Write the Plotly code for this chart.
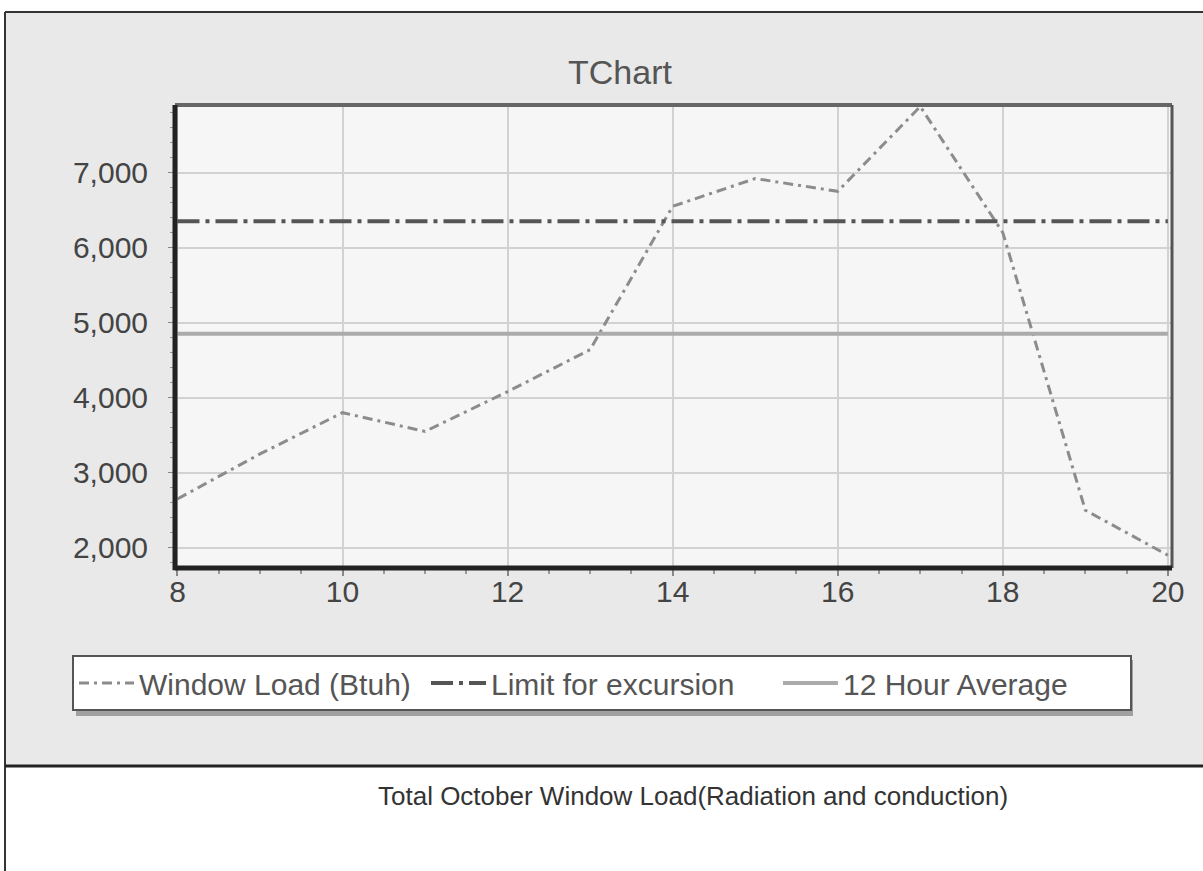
import plotly.graph_objects as go

# ---- data ----
hours = [8, 9, 10, 11, 12, 13, 14, 15, 16, 17, 18, 19, 20]
window_load = [2650, 3250, 3800, 3550, 4080, 4640, 6550, 6920, 6750, 7880, 6200, 2500, 1900]
limit_value = 6350
average_value = 4850
y_ticks = [2000, 3000, 4000, 5000, 6000, 7000]
x_ticks = [8, 10, 12, 14, 16, 18, 20]

W, H = 1203, 871
L, R, T, B = 175, 1172, 105, 568  # plot area in pixels


def px(x):
    return (x - L) / (R - L)


def py(y):
    return (B - y) / (B - T)


fig = go.Figure()
fig.add_trace(go.Scatter(
    x=hours, y=window_load, mode="lines", name="Window Load (Btuh)",
    line=dict(color="#8c8c8c", width=3, dash="10px,5px,3px,5px"),
))
fig.add_trace(go.Scatter(
    x=[hours[0], hours[-1]], y=[limit_value, limit_value], mode="lines",
    name="Limit for excursion",
    line=dict(color="#555555", width=4, dash="22px,6px,4px,6px"),
))
fig.add_trace(go.Scatter(
    x=[hours[0], hours[-1]], y=[average_value, average_value], mode="lines",
    name="12 Hour Average",
    line=dict(color="#ababab", width=4),
))

shapes = [
    # gray panel
    dict(type="rect", xref="paper", yref="paper", x0=px(5), x1=px(1210), y0=py(765), y1=py(12),
         fillcolor="#e9e9e9", line=dict(width=0), layer="below"),
    # plot area background
    dict(type="rect", xref="paper", yref="paper", x0=0, x1=1, y0=0, y1=1,
         fillcolor="#f6f6f6", line=dict(width=0), layer="below"),
    # outer frame lines
    dict(type="line", xref="paper", yref="paper", x0=px(5), x1=px(1210), y0=py(12), y1=py(12),
         line=dict(color="#333333", width=2)),
    dict(type="line", xref="paper", yref="paper", x0=px(5), x1=px(5), y0=py(12), y1=py(875),
         line=dict(color="#333333", width=2)),
    dict(type="line", xref="paper", yref="paper", x0=px(5), x1=px(1210), y0=py(766), y1=py(766),
         line=dict(color="#222222", width=3)),
    # legend shadow
    dict(type="rect", xref="paper", yref="paper", x0=px(76), x1=px(1133), y0=py(716), y1=py(660),
         fillcolor="#a0a0a0", line=dict(width=0), layer="below"),
    # plot frame
    dict(type="line", xref="paper", yref="paper", x0=0, x1=1, y0=1, y1=1,
         line=dict(color="#666666", width=4)),
    dict(type="line", xref="paper", yref="paper", x0=1, x1=1, y0=0, y1=1,
         line=dict(color="#555555", width=3)),
    dict(type="line", xref="paper", yref="paper", x0=0, x1=0, y0=-0.005, y1=1,
         line=dict(color="#222222", width=5)),
    dict(type="line", xref="paper", yref="paper", x0=0, x1=1, y0=0, y1=0,
         line=dict(color="#222222", width=5)),
]

annotations = [
    dict(text="TChart", xref="paper", yref="paper", x=px(620), y=py(72),
         xanchor="center", yanchor="middle",
         showarrow=False, font=dict(size=34, color="#555555")),
    dict(text="Total October Window Load(Radiation and conduction)", xref="paper", yref="paper",
         x=px(693), y=py(796), xanchor="center", yanchor="middle",
         showarrow=False, font=dict(size=26, color="#333333")),
]

fig.update_layout(
    width=W, height=H,
    margin=dict(l=L, r=W - R, t=T, b=H - B),
    paper_bgcolor="white",
    plot_bgcolor="#f6f6f6",
    font=dict(family="Liberation Sans, Arial, sans-serif", color="#444444"),
    shapes=shapes,
    annotations=annotations,
    showlegend=True,
    legend=dict(
        orientation="h", x=px(72), y=py(683), xanchor="left", yanchor="middle",
        bgcolor="white", bordercolor="#555555", borderwidth=2,
        font=dict(size=30, color="#555555"),
        itemwidth=55, entrywidth=282, entrywidthmode="pixels",
    ),
    xaxis=dict(
        range=[7.97, 20.05], tickvals=x_ticks, ticks="outside", ticklen=7, tickwidth=2,
        tickcolor="#888888",
        showgrid=True, gridcolor="#d2d2d2", gridwidth=2, zeroline=False,
        tickfont=dict(size=30, color="#444444"),
        minor=dict(dtick=0.5, ticks="outside", ticklen=5, tickcolor="#999999", showgrid=False),
        ticklabelstandoff=-10,
    ),
    yaxis=dict(
        range=[1730, 7900], tickvals=y_ticks, tickformat=",d", ticks="outside", ticklen=6,
        tickcolor="#888888",
        showgrid=True, gridcolor="#d2d2d2", gridwidth=2, zeroline=False,
        tickfont=dict(size=30, color="#444444"),
        minor=dict(dtick=200, ticks="outside", ticklen=4, tickcolor="#999999", showgrid=False),
        ticklabelstandoff=14,
    ),
)

fig.write_html("out.html", config={"displayModeBar": False},
               post_script="document.body.style.margin='0px';")
